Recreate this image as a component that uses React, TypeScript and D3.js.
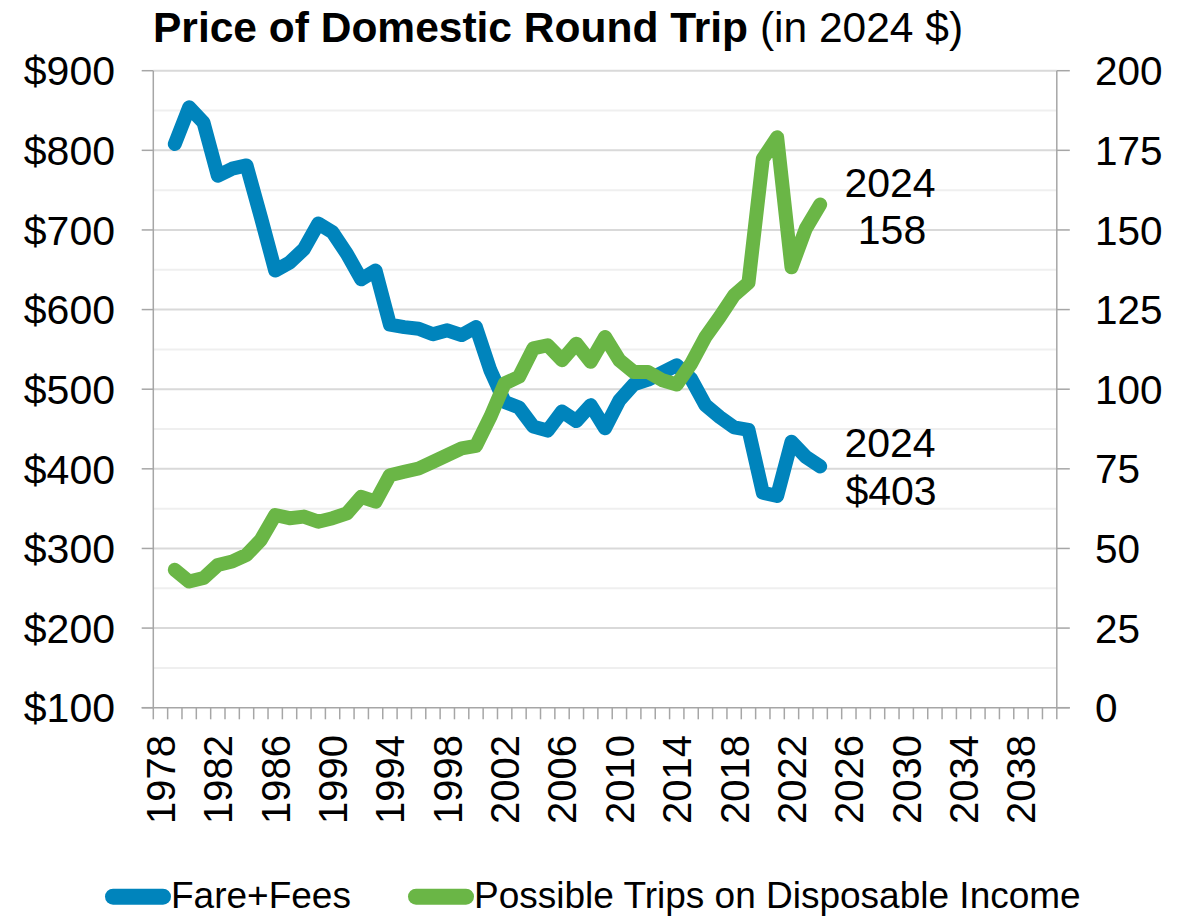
import React from "react";
import * as d3 from "d3";

const categories: number[] = d3.range(1978, 2041);
const years: number[] = d3.range(1979, 2025);
const fareFees: number[] = [
  808, 854, 835, 768, 777, 781, 716, 649, 659, 676, 708, 697, 670, 638, 649,
  581, 578, 576, 569, 574, 568, 578, 524, 484, 477, 453, 448, 472, 460, 480,
  451, 486, 506, 512, 521, 530, 513, 480, 465, 452, 449, 370, 366, 434, 415, 403,
];
const possibleTrips: number[] = [
  43.3, 39.6, 40.7, 44.8, 45.9, 48.0, 52.7, 60.5, 59.5, 60.0, 58.4, 59.5, 61.0,
  66.2, 64.7, 73.0, 74.1, 75.1, 77.2, 79.3, 81.4, 82.2, 91.3, 101.8, 103.9,
  112.8, 113.8, 109.1, 114.3, 108.6, 116.4, 109.1, 105.4, 105.4, 102.8, 101.5,
  108.0, 116.4, 122.7, 129.5, 133.4, 172.3, 179.1, 138.3, 150.4, 158,
];
const leftTicks: number[] = [100, 200, 300, 400, 500, 600, 700, 800, 900];
const rightTicks: number[] = [0, 25, 50, 75, 100, 125, 150, 175, 200];
const labelYears: number[] = d3.range(1978, 2041, 4);
const seriesNames = ["Fare+Fees", "Possible Trips on Disposable Income"];

const BLUE = "#0084BC";
const GREEN = "#6AB646";
const AXIS = "#a6a6a6";
const FONT = "'Liberation Sans', Arial, sans-serif";

export default function App() {
  const left = 153.3;
  const right = 1056.8;
  const top = 70.7;
  const bottom = 707.7;

  const x = d3.scaleBand<number>().domain(categories).range([left, right]).padding(0);
  const xc = (yr: number) => (x(yr) as number) + x.bandwidth() / 2;
  const yL = d3.scaleLinear().domain([100, 900]).range([bottom, top]);
  const yR = d3.scaleLinear().domain([0, 200]).range([bottom, top]);

  const fareLine = d3
    .line<number>()
    .x((_, i) => xc(years[i]))
    .y((d) => yL(d))(fareFees) as string;
  const tripLine = d3
    .line<number>()
    .x((_, i) => xc(years[i]))
    .y((d) => yR(d))(possibleTrips) as string;

  const gridVals = d3.range(150, 901, 50);
  const boundaries = d3.range(0, categories.length + 1).map((i) => left + i * x.bandwidth());

  const lastYear = years[years.length - 1];
  const lastFare = fareFees[fareFees.length - 1];
  const lastTrips = possibleTrips[possibleTrips.length - 1];

  return (
    <svg
      width={1179}
      height={922}
      style={{ position: "absolute", left: 0, top: 0, background: "#fff" }}
      fontFamily={FONT}
    >
      <rect x={0} y={0} width={1179} height={922} fill="#fff" />
      {/* title */}
      <text x={153} y={41.7} fontSize={42.5} fill="#000">
        <tspan fontWeight="bold">Price of Domestic Round Trip</tspan>
        <tspan> (in 2024 $)</tspan>
      </text>

      {/* gridlines */}
      {gridVals.map((v) => (
        <line
          key={"g" + v}
          x1={left}
          x2={right}
          y1={yL(v)}
          y2={yL(v)}
          stroke={v % 100 === 0 ? "#d9d9d9" : "#efefef"}
          strokeWidth={2}
        />
      ))}

      {/* axes */}
      <line x1={left} x2={left} y1={top} y2={bottom} stroke={AXIS} strokeWidth={1.5} />
      <line x1={right} x2={right} y1={top} y2={bottom} stroke={AXIS} strokeWidth={1.5} />
      <line x1={left - 11.6} x2={right + 13} y1={bottom} y2={bottom} stroke={AXIS} strokeWidth={1.5} />
      {leftTicks.map((v) => (
        <g key={"l" + v}>
          <line x1={left - 11.6} x2={left} y1={yL(v)} y2={yL(v)} stroke={AXIS} strokeWidth={1.5} />
          <text x={115} y={yL(v)} dy="0.36em" textAnchor="end" fontSize={41}>
            {"$" + v}
          </text>
        </g>
      ))}
      {rightTicks.map((v) => (
        <g key={"r" + v}>
          <line x1={right} x2={right + 13} y1={yR(v)} y2={yR(v)} stroke={AXIS} strokeWidth={1.5} />
          <text x={1095} y={yR(v)} dy="0.36em" textAnchor="start" fontSize={40.5}>
            {v}
          </text>
        </g>
      ))}
      {boundaries.map((bx, i) => (
        <line key={"t" + i} x1={bx} x2={bx} y1={bottom} y2={bottom + 11.6} stroke={AXIS} strokeWidth={1.5} />
      ))}
      {labelYears.map((yr) => (
        <text
          key={"y" + yr}
          transform={`translate(${xc(yr)},${735}) rotate(-90)`}
          dy="0.36em"
          textAnchor="end"
          fontSize={40}
        >
          {yr}
        </text>
      ))}

      {/* series */}
      <path d={fareLine} fill="none" stroke={BLUE} strokeWidth={14} strokeLinejoin="round" strokeLinecap="round" />
      <path d={tripLine} fill="none" stroke={GREEN} strokeWidth={14} strokeLinejoin="round" strokeLinecap="round" />

      {/* annotations */}
      <text x={890} y={196.7} textAnchor="middle" fontSize={41}>{lastYear}</text>
      <text x={892} y={244} textAnchor="middle" fontSize={41}>{Math.round(lastTrips)}</text>
      <text x={890} y={456.7} textAnchor="middle" fontSize={41}>{lastYear}</text>
      <text x={891} y={505} textAnchor="middle" fontSize={41}>{"$" + lastFare}</text>

      {/* legend */}
      <line x1={113} x2={163} y1={896.7} y2={896.7} stroke={BLUE} strokeWidth={16} strokeLinecap="round" />
      <text x={171} y={908.3} fontSize={37}>{seriesNames[0]}</text>
      <line x1={416} x2={466} y1={896.7} y2={896.7} stroke={GREEN} strokeWidth={16} strokeLinecap="round" />
      <text x={474} y={908.3} fontSize={37}>{seriesNames[1]}</text>
    </svg>
  );
}
